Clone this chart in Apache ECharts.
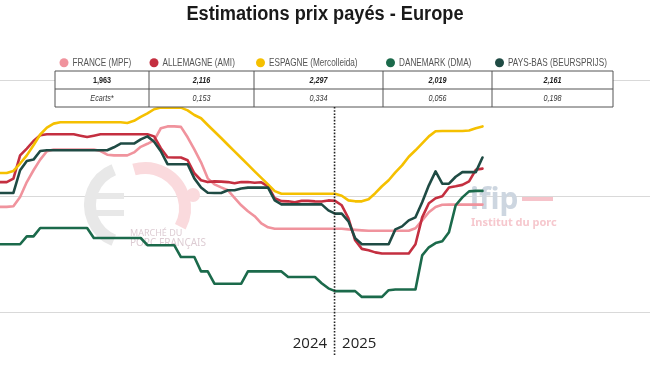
<!DOCTYPE html>
<html><head><meta charset="utf-8">
<script src="https://cdn.jsdelivr.net/npm/echarts@6/dist/echarts.min.js"></script>
<style>html,body{margin:0;padding:0;background:#fff}#c{width:650px;height:366px}</style>
</head><body><div id="c"></div>
<script>
// ---- data ----
const yearLabels = ['2024', '2025'];
const weeks2024 = ['S03','S04','S05','S06','S07','S08','S09','S10','S11','S12','S13','S14','S15','S16','S17','S18','S19','S20','S21','S22','S23','S24','S25','S26','S27','S28','S29','S30','S31','S32','S33','S34','S35','S36','S37','S38','S39','S40','S41','S42','S43','S44','S45','S46','S47','S48','S49','S50','S51','S52'];
const weeks2025 = ['S01','S02','S03','S04','S05','S06','S07','S08','S09','S10','S11','S12','S13','S14','S15','S16','S17','S18','S19','S20','S21','S22','S23','S24','S25','S26','S27','S28','S29','S30','S31','S32','S33','S34','S35','S36','S37','S38','S39','S40','S41','S42','S43','S44','S45','S46','S47','S48'];
const seriesNames = ['FRANCE (MPF)', 'ALLEMAGNE (AMI)', 'ESPAGNE (Mercolleida)', 'DANEMARK (DMA)', 'PAYS-BAS (BEURSPRIJS)'];
const france = [1.953,1.953,1.956,1.996,2.060,2.111,2.157,2.193,2.200,2.200,2.200,2.200,2.200,2.200,2.200,2.194,2.178,2.175,2.175,2.175,2.188,2.212,2.225,2.240,2.292,2.300,2.300,2.298,2.253,2.201,2.145,2.076,2.050,2.037,2.025,1.992,1.960,1.934,1.913,1.882,1.865,1.859,1.859,1.859,1.859,1.859,1.859,1.859,1.859,1.859,1.859,1.859,1.856,1.854,1.852,1.850,1.850,1.850,1.850,1.850,1.850,1.850,1.861,1.895,1.930,1.953,1.962,1.963,1.963,1.963,1.963,1.963,1.963];
const allemagne = [2.060,2.060,2.075,2.175,2.204,2.237,2.262,2.266,2.266,2.266,2.266,2.266,2.260,2.254,2.260,2.266,2.266,2.266,2.266,2.266,2.266,2.266,2.266,2.257,2.206,2.167,2.166,2.166,2.154,2.098,2.068,2.060,2.063,2.062,2.060,2.055,2.060,2.060,2.057,2.059,2.042,1.990,1.978,1.977,1.973,1.979,1.979,1.977,1.976,1.981,1.979,1.960,1.904,1.809,1.772,1.766,1.757,1.752,1.752,1.752,1.752,1.752,1.792,1.908,1.969,1.990,1.999,2.037,2.042,2.048,2.063,2.113,2.118];
const espagne = [2.099,2.099,2.108,2.140,2.175,2.219,2.265,2.295,2.312,2.318,2.318,2.318,2.318,2.318,2.318,2.318,2.318,2.318,2.318,2.315,2.324,2.341,2.356,2.374,2.381,2.381,2.381,2.381,2.369,2.349,2.335,2.306,2.278,2.250,2.221,2.192,2.164,2.135,2.106,2.078,2.050,2.021,2.010,2.010,2.010,2.010,2.010,2.010,2.010,2.010,2.010,2.001,1.981,1.977,1.977,1.986,2.012,2.042,2.068,2.102,2.132,2.169,2.197,2.227,2.257,2.279,2.280,2.280,2.280,2.280,2.282,2.292,2.300];
const danemark = [1.792,1.792,1.792,1.792,1.826,1.826,1.862,1.862,1.862,1.862,1.862,1.862,1.862,1.862,1.819,1.819,1.819,1.819,1.819,1.819,1.819,1.819,1.788,1.788,1.788,1.788,1.788,1.737,1.737,1.737,1.675,1.675,1.622,1.622,1.622,1.622,1.622,1.675,1.675,1.675,1.675,1.675,1.675,1.651,1.651,1.651,1.651,1.651,1.624,1.602,1.590,1.590,1.590,1.590,1.565,1.565,1.565,1.565,1.594,1.597,1.597,1.597,1.597,1.744,1.779,1.797,1.805,1.844,1.960,1.994,2.020,2.022,2.022];
const paysBas = [2.013,2.013,2.013,2.111,2.151,2.157,2.194,2.197,2.197,2.197,2.197,2.197,2.197,2.197,2.197,2.197,2.197,2.210,2.226,2.226,2.226,2.244,2.257,2.234,2.193,2.137,2.137,2.137,2.137,2.076,2.037,2.014,2.013,2.013,2.025,2.025,2.032,2.036,2.036,2.036,2.036,1.981,1.964,1.964,1.964,1.964,1.964,1.964,1.964,1.938,1.924,1.924,1.891,1.818,1.792,1.792,1.792,1.792,1.792,1.856,1.869,1.895,1.908,1.973,2.046,2.106,2.053,2.053,2.083,2.103,2.103,2.103,2.166];
const lastValues = ['1,963', '2,116', '2,297', '2,019', '2,161'];
const ecarts = ['Ecarts*', '0,153', '0,334', '0,056', '0,198'];

// ---- build ----
const categories = weeks2024.map(w => yearLabels[0] + '-' + w).concat(weeks2025.map(w => yearLabels[1] + '-' + w));
const colors = ['#f0939d', '#c42f40', '#f5c000', '#1b6a4b', '#1f4b44'];
const values = [france, allemagne, espagne, danemark, paysBas];
const SANS = '"Liberation Sans", Arial, sans-serif';

const chart = echarts.init(document.getElementById('c'), null, {renderer: 'canvas'});

const option = {
  animation: false,
  backgroundColor: '#fff',
  grid: {left: 0, right: 0, top: 80, height: 232, containLabel: false},
  xAxis: {
    type: 'category', data: categories, boundaryGap: false,
    axisLine: {show: false}, axisTick: {show: false}, axisLabel: {show: false}, splitLine: {show: false}
  },
  yAxis: {
    type: 'value', min: 1.5, max: 2.5, interval: 0.5,
    axisLine: {show: false}, axisTick: {show: false}, axisLabel: {show: false},
    splitLine: {lineStyle: {color: '#d9d9d9', width: 1}}
  },
  series: seriesNames.map((n, i) => ({
    name: n, type: 'line', data: values[i], symbol: 'none', smooth: false,
    itemStyle: {color: colors[i]},
    lineStyle: {color: colors[i], width: 2.6, cap: 'round', join: 'round'},
    z: 3 + i
  }))
};
chart.setOption(option);

// ---- overlay graphics (title, legend, table, year boundary, watermarks) ----
const bx = chart.convertToPixel({xAxisIndex: 0}, categories[weeks2024.length]);
const colX = [55, 149, 254, 383, 492, 613];
const legendDotX = [64, 154, 260.5, 390.5, 499.5];
const g = [];
// title (condensed look via horizontal scale)
g.push({type: 'text', z: 30, x: 325, y: 14, scaleX: 0.91,
  style: {x: 0, y: 0, text: 'Estimations prix payés - Europe', align: 'center', verticalAlign: 'middle', fill: '#1a1a1a', font: 'bold 20px ' + SANS}});
// legend
seriesNames.forEach((n, i) => {
  g.push({type: 'circle', z: 30, shape: {cx: legendDotX[i], cy: 62.7, r: 4.5}, style: {fill: colors[i]}});
  g.push({type: 'text', z: 30, x: legendDotX[i] + 8.5, y: 63, scaleX: 0.78,
    style: {x: 0, y: 0, text: n, align: 'left', verticalAlign: 'middle', fill: '#555', font: '10.5px ' + SANS}});
});
// watermarks
g.push({type: 'arc', z: 1, shape: {cx: 128, cy: 205, r: 38, startAngle: 112 * Math.PI / 180, endAngle: 248 * Math.PI / 180, clockwise: true}, style: {stroke: '#e8e8e8', lineWidth: 12, fill: null}});
g.push({type: 'rect', z: 1, shape: {x: 88, y: 193, width: 36, height: 6}, style: {fill: '#e8e8e8'}});
g.push({type: 'rect', z: 1, shape: {x: 88, y: 210, width: 36, height: 6}, style: {fill: '#e8e8e8'}});
g.push({type: 'arc', z: 1, shape: {cx: 145, cy: 208, r: 40, startAngle: -106 * Math.PI / 180, endAngle: 28 * Math.PI / 180, clockwise: true}, style: {stroke: '#fadadd', lineWidth: 12, fill: null}});
g.push({type: 'circle', z: 1, shape: {cx: 193, cy: 195, r: 7}, style: {fill: '#fadadd'}});
g.push({type: 'text', z: 1, style: {x: 130, y: 233, text: 'MARCHÉ DU', fill: '#ddccd3', font: '9px "Noto Sans", sans-serif', verticalAlign: 'middle'}});
g.push({type: 'text', z: 1, style: {x: 130, y: 243, text: 'PORC FRANÇAIS', fill: '#ddccd3', font: '10px "Noto Sans", sans-serif', verticalAlign: 'middle'}});
g.push({type: 'text', z: 1, style: {x: 470, y: 200, text: 'ifip', fill: '#cdd6e0', font: 'bold 30px "Noto Sans", sans-serif', verticalAlign: 'middle'}});
g.push({type: 'rect', z: 1, shape: {x: 522, y: 197, width: 31, height: 4}, style: {fill: '#f6c3ca'}});
g.push({type: 'text', z: 1, style: {x: 471, y: 223, text: 'Institut du porc', fill: '#f6c8ce', font: 'bold 11px "Noto Sans", sans-serif', verticalAlign: 'middle'}});
// table
g.push({type: 'rect', z: 20, shape: {x: colX[0], y: 71, width: colX[5] - colX[0], height: 36}, style: {fill: '#fff', stroke: '#555', lineWidth: 1}});
g.push({type: 'line', z: 21, shape: {x1: colX[0], y1: 89, x2: colX[5], y2: 89}, style: {stroke: '#555', lineWidth: 1}});
for (let i = 1; i < 5; i++) {
  g.push({type: 'line', z: 21, shape: {x1: colX[i], y1: 71, x2: colX[i], y2: 107}, style: {stroke: '#555', lineWidth: 1}});
}
for (let i = 0; i < 5; i++) {
  const cx = (colX[i] + colX[i + 1]) / 2;
  g.push({type: 'text', z: 22, x: cx, y: 80.5, scaleX: 0.85, style: {x: 0, y: 0, text: lastValues[i], align: 'center', verticalAlign: 'middle', fill: '#222', font: (i === 0 ? '' : 'italic ') + 'bold 8.5px ' + SANS}});
  g.push({type: 'text', z: 22, x: cx, y: 98.5, scaleX: 0.85, style: {x: 0, y: 0, text: ecarts[i], align: 'center', verticalAlign: 'middle', fill: '#333', font: 'italic 8.5px ' + SANS}});
}
// year boundary
g.push({type: 'line', z: 25, shape: {x1: bx - 0.5, y1: 107, x2: bx - 0.5, y2: 355}, style: {stroke: '#222', lineWidth: 1.6, lineDash: [1.6, 1.6]}});
g.push({type: 'text', z: 25, style: {x: bx - 8, y: 344, text: yearLabels[0], align: 'right', verticalAlign: 'middle', fill: '#222', font: '15px "Open Sans", sans-serif'}});
g.push({type: 'text', z: 25, style: {x: bx + 7, y: 344, text: yearLabels[1], align: 'left', verticalAlign: 'middle', fill: '#222', font: '15px "Open Sans", sans-serif'}});
chart.setOption({graphic: {elements: g}});
</script>
</body></html>
